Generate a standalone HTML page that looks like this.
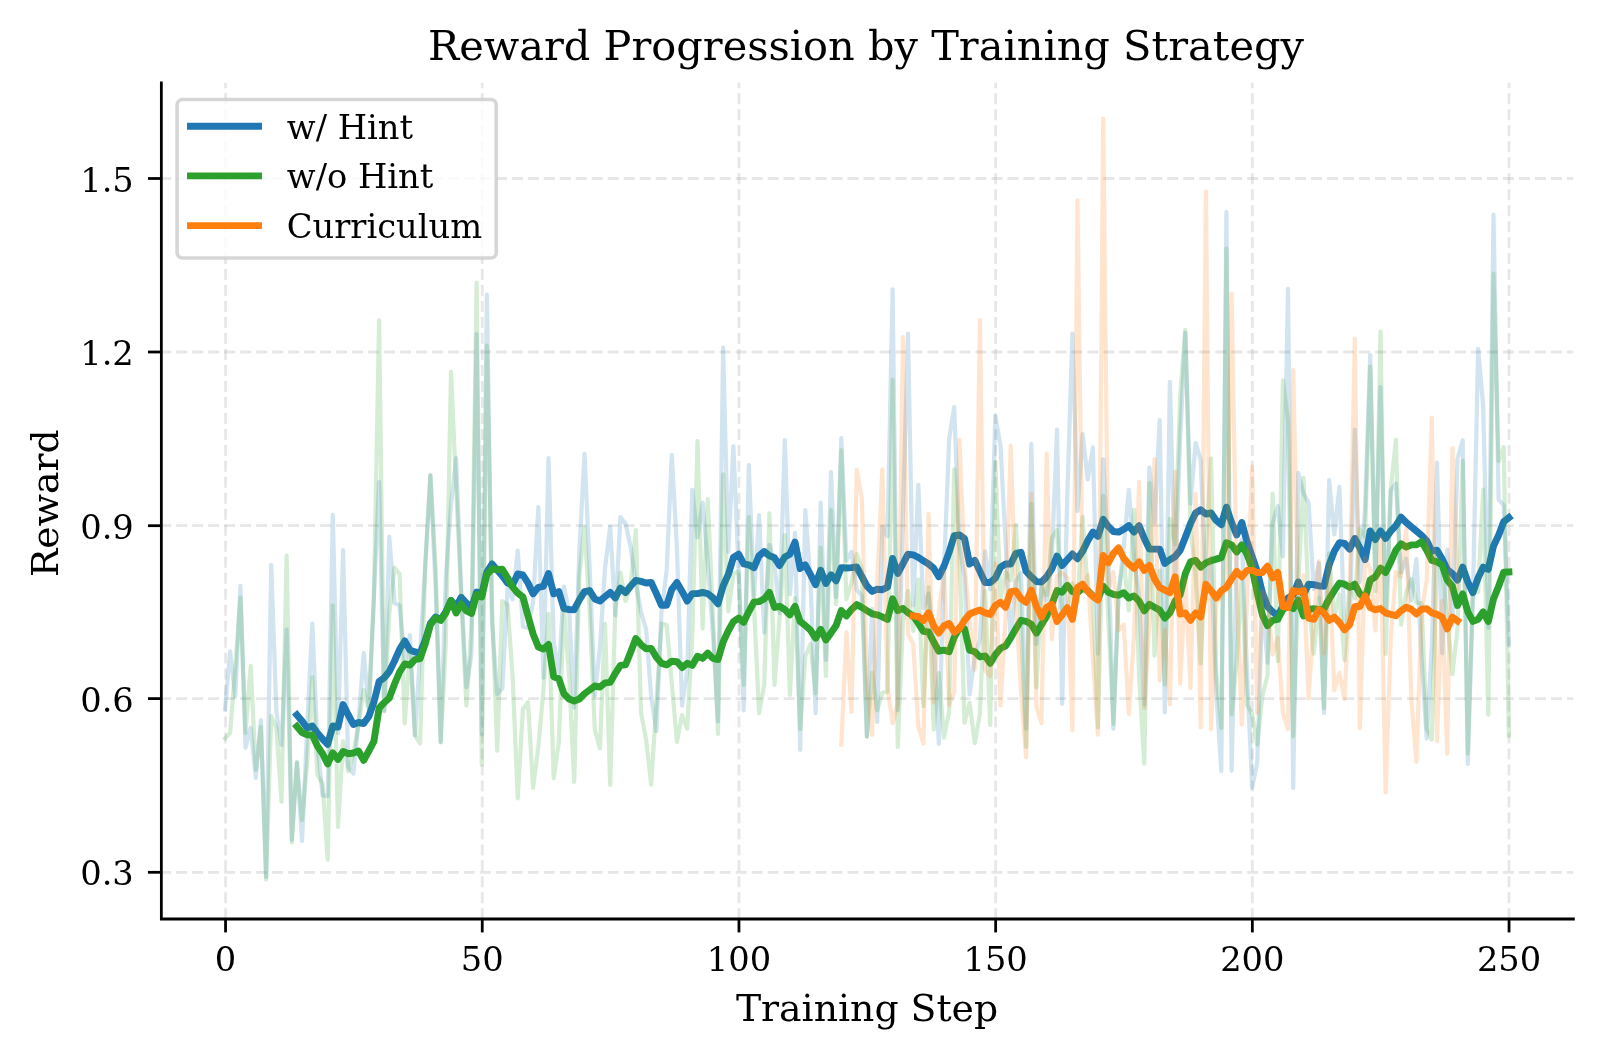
<!DOCTYPE html><html><head><meta charset="utf-8"><title>Reward Progression by Training Strategy</title><style>html,body{margin:0;padding:0;background:#fff}body{width:1600px;height:1058px;overflow:hidden}</style></head><body><svg width="1600" height="1058" viewBox="0 0 1600 1058" style="display:block;will-change:transform;font-family:'DejaVu Serif','Liberation Serif',serif">
<rect width="1600" height="1058" fill="#fff"/>
<g stroke="#b0b0b0" stroke-opacity="0.3" stroke-width="2.8" stroke-dasharray="11 4.985" fill="none"><path d="M225.55,919.3 V82.7" stroke-dasharray="11 4.98"/><path d="M482.25,919.3 V82.7" stroke-dasharray="11 4.98"/><path d="M738.95,919.3 V82.7" stroke-dasharray="11 4.98"/><path d="M995.65,919.3 V82.7" stroke-dasharray="11 4.98"/><path d="M1252.35,919.3 V82.7" stroke-dasharray="11 4.98"/><path d="M1509.05,919.3 V82.7" stroke-dasharray="11 4.98"/><path d="M161.3,872.3 H1573.2" stroke-dashoffset="1.1"/><path d="M161.3,698.6 H1573.2" stroke-dashoffset="1.1"/><path d="M161.3,525.7 H1573.2" stroke-dashoffset="1.1"/><path d="M161.3,352.0 H1573.2" stroke-dashoffset="1.1"/><path d="M161.3,178.5 H1573.2" stroke-dashoffset="1.1"/></g>
<clipPath id="c"><rect x="161.35" y="82" width="1413.0500000000002" height="837.0"/></clipPath>
<g clip-path="url(#c)" fill="none" stroke-linejoin="round">
<path d="M225.0,709.4 L230.1,651.6 L235.3,696.7 L240.4,585.9 L245.5,747.8 L250.7,727.7 L255.8,778.0 L260.9,720.0 L266.1,877.0 L271.2,564.8 L276.4,712.2 L281.5,744.9 L286.6,629.5 L291.8,839.8 L296.9,761.8 L302.0,841.0 L307.2,726.6 L312.3,623.6 L317.4,743.5 L322.6,795.5 L327.7,796.2 L332.8,514.8 L338.0,733.2 L343.1,550.2 L348.3,767.1 L353.4,773.5 L358.5,721.6 L363.7,652.9 L368.8,708.4 L373.9,596.1 L379.1,482.2 L384.2,710.7 L389.3,536.7 L394.5,603.0 L399.6,605.4 L404.7,662.7 L409.9,635.2 L415.0,735.2 L420.1,652.5 L425.3,564.7 L430.4,475.7 L435.6,587.5 L440.7,741.9 L445.8,577.6 L451.0,504.5 L456.1,458.2 L461.2,590.0 L466.4,687.1 L471.5,653.5 L476.6,334.1 L481.8,734.3 L486.9,294.5 L492.0,623.4 L497.2,694.1 L502.3,688.6 L507.5,588.8 L512.6,599.4 L517.7,550.7 L522.9,626.7 L528.0,627.9 L533.1,601.9 L538.3,507.2 L543.4,677.7 L548.5,458.0 L553.7,642.2 L558.8,673.0 L563.9,586.7 L569.1,611.6 L574.2,707.7 L579.3,551.4 L584.5,453.8 L589.6,566.6 L594.8,695.7 L599.9,647.7 L605.0,568.6 L610.2,526.8 L615.3,615.4 L620.4,517.2 L625.6,523.9 L630.7,547.3 L635.8,583.1 L641.0,611.9 L646.1,629.4 L651.2,696.6 L656.4,731.1 L661.5,611.6 L666.7,569.8 L671.8,454.8 L676.9,547.5 L682.1,705.8 L687.2,671.7 L692.3,489.9 L697.5,537.5 L702.6,502.7 L707.7,563.4 L712.9,633.0 L718.0,721.3 L723.1,347.7 L728.3,552.0 L733.4,446.4 L738.6,570.8 L743.7,710.3 L748.8,465.2 L754.0,596.1 L759.1,515.0 L764.2,632.7 L769.4,544.9 L774.5,564.0 L779.6,613.1 L784.8,440.1 L789.9,594.3 L795.0,532.9 L800.2,750.0 L805.3,510.0 L810.4,580.4 L815.6,713.1 L820.7,502.7 L825.9,659.9 L831.0,472.0 L836.1,597.1 L841.3,438.0 L846.4,560.5 L851.5,551.9 L856.7,589.6 L861.8,595.6 L866.9,736.5 L872.1,609.0 L877.2,721.9 L882.3,526.8 L887.5,536.2 L892.6,289.3 L897.8,710.3 L902.9,516.8 L908.0,333.6 L913.2,605.5 L918.3,484.9 L923.4,608.2 L928.6,593.8 L933.7,639.7 L938.8,743.8 L944.0,570.3 L949.1,439.6 L954.2,407.1 L959.4,545.2 L964.5,576.8 L969.6,694.5 L974.8,656.4 L979.9,639.7 L985.1,551.4 L990.2,589.5 L995.3,416.0 L1000.5,445.9 L1005.6,542.6 L1010.7,640.4 L1015.9,581.1 L1021.0,573.1 L1026.1,728.8 L1031.3,443.8 L1036.4,643.9 L1041.5,587.1 L1046.7,600.5 L1051.8,558.6 L1057.0,429.6 L1062.1,704.0 L1067.2,499.6 L1072.4,333.7 L1077.5,510.9 L1082.6,434.0 L1087.8,479.4 L1092.9,447.3 L1098.0,653.6 L1103.2,459.3 L1108.3,554.6 L1113.4,728.6 L1118.6,592.8 L1123.7,548.1 L1128.8,489.8 L1134.0,556.9 L1139.1,597.1 L1144.3,704.6 L1149.4,467.5 L1154.5,522.6 L1159.7,420.2 L1164.8,712.4 L1169.9,381.8 L1175.1,581.6 L1180.2,437.8 L1185.3,332.9 L1190.5,503.6 L1195.6,443.2 L1200.7,460.2 L1205.9,586.9 L1211.0,557.9 L1216.2,692.1 L1221.3,771.2 L1226.4,212.2 L1231.6,770.8 L1236.7,555.2 L1241.8,539.7 L1247.0,670.6 L1252.1,787.6 L1257.2,763.1 L1262.4,600.7 L1267.5,662.7 L1272.6,523.1 L1277.8,506.0 L1282.9,556.5 L1288.0,288.9 L1293.2,787.9 L1298.3,472.9 L1303.5,493.5 L1308.6,502.9 L1313.7,589.2 L1318.9,563.0 L1324.0,713.2 L1329.1,480.2 L1334.3,534.5 L1339.4,486.8 L1344.5,627.5 L1349.7,625.9 L1354.8,429.6 L1359.9,581.9 L1365.1,507.2 L1370.2,355.0 L1375.4,578.9 L1380.5,387.1 L1385.6,615.0 L1390.8,490.4 L1395.9,483.6 L1401.0,572.5 L1406.2,558.4 L1411.3,600.3 L1416.4,559.0 L1421.6,659.1 L1426.7,738.3 L1431.8,646.7 L1437.0,462.7 L1442.1,653.3 L1447.2,549.6 L1452.4,624.9 L1457.5,459.0 L1462.7,440.2 L1467.8,763.9 L1472.9,597.2 L1478.1,348.9 L1483.2,406.2 L1488.3,627.8 L1493.5,214.7 L1498.6,499.8 L1503.7,504.9 L1508.9,644.1" stroke="#1f77b4" stroke-opacity="0.2" stroke-width="4.2" stroke-linecap="square"/>
<path d="M296.9,715.0 L302.0,721.0 L307.2,728.0 L312.3,726.0 L317.4,733.0 L322.6,739.0 L327.7,744.3 L332.8,726.0 L338.0,727.0 L343.1,704.6 L348.3,715.0 L353.4,724.4 L358.5,722.5 L363.7,723.5 L368.8,716.5 L373.9,702.0 L379.1,681.5 L384.2,677.7 L389.3,671.5 L394.5,661.0 L399.6,649.3 L404.7,641.0 L409.9,650.0 L415.0,652.0 L420.1,653.0 L425.3,640.0 L430.4,623.5 L435.6,617.0 L440.7,619.5 L445.8,612.0 L451.0,600.5 L456.1,607.0 L461.2,597.4 L466.4,603.0 L471.5,608.0 L476.6,592.0 L481.8,594.0 L486.9,572.0 L492.0,564.0 L497.2,570.0 L502.3,576.0 L507.5,583.0 L512.6,585.0 L517.7,574.0 L522.9,575.0 L528.0,583.0 L533.1,593.8 L538.3,587.4 L543.4,586.3 L548.5,573.5 L553.7,593.8 L558.8,591.6 L563.9,608.6 L569.1,609.5 L574.2,609.7 L579.3,600.0 L584.5,591.6 L589.6,590.6 L594.8,599.0 L599.9,601.0 L605.0,596.7 L610.2,592.5 L615.3,597.8 L620.4,588.2 L625.6,592.5 L630.7,586.0 L635.8,580.4 L641.0,581.4 L646.1,583.0 L651.2,582.5 L656.4,593.6 L661.5,605.3 L666.7,605.3 L671.8,589.3 L676.9,582.5 L682.1,591.4 L687.2,601.0 L692.3,593.6 L697.5,593.6 L702.6,592.5 L707.7,593.6 L712.9,597.8 L718.0,603.8 L723.1,586.0 L728.3,574.4 L733.4,557.4 L738.6,554.2 L743.7,563.8 L748.8,564.9 L754.0,567.6 L759.1,555.7 L764.2,551.5 L769.4,555.7 L774.5,557.8 L779.6,565.5 L784.8,557.0 L789.9,554.2 L795.0,542.1 L800.2,568.5 L805.3,564.9 L810.4,574.4 L815.6,584.6 L820.7,570.2 L825.9,583.4 L831.0,574.8 L836.1,580.8 L841.3,567.6 L846.4,568.0 L851.5,567.6 L856.7,567.0 L861.8,576.5 L866.9,586.0 L872.1,591.4 L877.2,589.3 L882.3,589.7 L887.5,587.2 L892.6,558.5 L897.8,573.4 L902.9,563.8 L908.0,554.2 L913.2,554.9 L918.3,557.4 L923.4,560.8 L928.6,564.0 L933.7,568.2 L938.8,576.7 L944.0,566.1 L949.1,552.3 L954.2,535.7 L959.4,534.9 L964.5,538.5 L969.6,564.0 L974.8,560.4 L979.9,571.4 L985.1,582.5 L990.2,582.5 L995.3,578.2 L1000.5,567.2 L1005.6,564.0 L1010.7,564.0 L1015.9,553.4 L1021.0,552.3 L1026.1,571.4 L1031.3,576.7 L1036.4,581.6 L1041.5,582.0 L1046.7,576.7 L1051.8,568.9 L1057.0,556.1 L1062.1,565.5 L1067.2,559.7 L1072.4,554.0 L1077.5,558.7 L1082.6,551.2 L1087.8,540.6 L1092.9,532.1 L1098.0,536.3 L1103.2,519.3 L1108.3,526.4 L1113.4,531.5 L1118.6,532.1 L1123.7,529.3 L1128.8,525.7 L1134.0,532.1 L1139.1,525.7 L1144.3,538.5 L1149.4,549.1 L1154.5,549.1 L1159.7,549.1 L1164.8,563.4 L1169.9,559.7 L1175.1,556.5 L1180.2,550.2 L1185.3,537.4 L1190.5,523.6 L1195.6,513.0 L1200.7,509.8 L1205.9,514.0 L1211.0,513.0 L1216.2,520.4 L1221.3,524.7 L1226.4,507.2 L1231.6,522.5 L1236.7,534.9 L1241.8,522.5 L1247.0,541.7 L1252.1,556.5 L1257.2,571.4 L1262.4,592.7 L1267.5,606.5 L1272.6,611.8 L1277.8,616.0 L1282.9,606.0 L1288.0,598.0 L1293.2,595.0 L1298.3,582.0 L1303.5,594.8 L1308.6,584.2 L1313.7,584.6 L1318.9,585.9 L1324.0,586.3 L1329.1,565.0 L1334.3,551.2 L1339.4,542.7 L1344.5,543.4 L1349.7,549.1 L1354.8,538.5 L1359.9,548.0 L1365.1,559.7 L1370.2,531.0 L1375.4,539.5 L1380.5,531.0 L1385.6,538.5 L1390.8,531.0 L1395.9,525.7 L1401.0,517.2 L1406.2,522.5 L1411.3,526.8 L1416.4,531.0 L1421.6,535.3 L1426.7,540.6 L1431.8,551.2 L1437.0,550.2 L1442.1,558.7 L1447.2,569.3 L1452.4,573.6 L1457.5,580.0 L1462.7,567.2 L1467.8,582.0 L1472.9,592.7 L1478.1,577.8 L1483.2,567.2 L1488.3,569.3 L1493.5,546.0 L1498.6,535.3 L1503.7,521.8 L1508.9,517.7" stroke="#1f77b4" stroke-width="6.94" stroke-linecap="square"/>
<path d="M225.0,738.4 L230.1,733.1 L235.3,667.0 L240.4,597.6 L245.5,732.8 L250.7,665.9 L255.8,769.9 L260.9,726.8 L266.1,879.7 L271.2,716.1 L276.4,727.8 L281.5,801.6 L286.6,555.7 L291.8,842.4 L296.9,763.0 L302.0,820.2 L307.2,762.2 L312.3,677.1 L317.4,774.7 L322.6,783.8 L327.7,859.6 L332.8,605.4 L338.0,826.9 L343.1,741.4 L348.3,771.3 L353.4,753.6 L358.5,724.9 L363.7,689.8 L368.8,708.9 L373.9,598.8 L379.1,320.3 L384.2,711.5 L389.3,613.6 L394.5,567.7 L399.6,574.1 L404.7,723.4 L409.9,650.0 L415.0,735.3 L420.1,743.4 L425.3,563.8 L430.4,474.9 L435.6,567.6 L440.7,742.3 L445.8,644.1 L451.0,371.8 L456.1,486.3 L461.2,596.3 L466.4,705.6 L471.5,626.3 L476.6,282.5 L481.8,764.7 L486.9,345.5 L492.0,605.5 L497.2,750.6 L502.3,601.2 L507.5,604.7 L512.6,675.7 L517.7,798.3 L522.9,709.5 L528.0,702.3 L533.1,787.8 L538.3,746.9 L543.4,690.6 L548.5,613.9 L553.7,778.3 L558.8,742.4 L563.9,608.2 L569.1,674.8 L574.2,782.0 L579.3,575.6 L584.5,527.9 L589.6,609.8 L594.8,729.9 L599.9,748.4 L605.0,623.8 L610.2,784.9 L615.3,609.9 L620.4,572.7 L625.6,601.0 L630.7,584.7 L635.8,530.0 L641.0,712.7 L646.1,739.6 L651.2,784.7 L656.4,701.1 L661.5,623.4 L666.7,625.1 L671.8,683.4 L676.9,741.9 L682.1,714.9 L687.2,728.7 L692.3,634.8 L697.5,441.2 L702.6,628.3 L707.7,499.0 L712.9,614.2 L718.0,733.9 L723.1,474.3 L728.3,611.5 L733.4,573.8 L738.6,571.4 L743.7,685.0 L748.8,517.1 L754.0,606.8 L759.1,713.1 L764.2,685.3 L769.4,513.4 L774.5,684.8 L779.6,617.8 L784.8,535.0 L789.9,694.9 L795.0,598.0 L800.2,729.2 L805.3,656.2 L810.4,644.3 L815.6,693.3 L820.7,547.5 L825.9,676.0 L831.0,510.0 L836.1,604.2 L841.3,450.2 L846.4,599.3 L851.5,582.9 L856.7,554.1 L861.8,568.8 L866.9,736.8 L872.1,672.7 L877.2,710.3 L882.3,692.8 L887.5,691.6 L892.6,379.7 L897.8,747.1 L902.9,622.2 L908.0,591.0 L913.2,630.8 L918.3,579.7 L923.4,706.1 L928.6,587.2 L933.7,729.3 L938.8,673.0 L944.0,737.6 L949.1,711.5 L954.2,469.3 L959.4,554.5 L964.5,722.7 L969.6,702.8 L974.8,743.1 L979.9,713.6 L985.1,591.0 L990.2,725.2 L995.3,461.9 L1000.5,598.0 L1005.6,572.5 L1010.7,580.5 L1015.9,525.1 L1021.0,625.6 L1026.1,746.8 L1031.3,503.9 L1036.4,687.5 L1041.5,585.0 L1046.7,595.0 L1051.8,538.2 L1057.0,530.0 L1062.1,608.5 L1067.2,610.9 L1072.4,583.1 L1077.5,602.4 L1082.6,517.2 L1087.8,589.6 L1092.9,593.7 L1098.0,727.4 L1103.2,495.6 L1108.3,618.9 L1113.4,723.8 L1118.6,592.0 L1123.7,559.9 L1128.8,610.3 L1134.0,509.5 L1139.1,677.5 L1144.3,763.6 L1149.4,482.8 L1154.5,655.6 L1159.7,570.5 L1164.8,684.7 L1169.9,518.8 L1175.1,544.0 L1180.2,396.8 L1185.3,329.8 L1190.5,528.1 L1195.6,574.6 L1200.7,663.3 L1205.9,551.7 L1211.0,458.6 L1216.2,672.8 L1221.3,727.8 L1226.4,248.5 L1231.6,714.2 L1236.7,661.4 L1241.8,574.3 L1247.0,704.7 L1252.1,713.7 L1257.2,744.6 L1262.4,695.6 L1267.5,675.8 L1272.6,493.7 L1277.8,661.1 L1282.9,380.3 L1288.0,420.2 L1293.2,736.5 L1298.3,583.1 L1303.5,477.9 L1308.6,602.3 L1313.7,653.7 L1318.9,597.7 L1324.0,707.9 L1329.1,553.4 L1334.3,616.7 L1339.4,594.4 L1344.5,660.2 L1349.7,582.4 L1354.8,598.3 L1359.9,528.9 L1365.1,536.7 L1370.2,366.6 L1375.4,591.2 L1380.5,331.5 L1385.6,653.9 L1390.8,488.0 L1395.9,439.7 L1401.0,624.7 L1406.2,592.8 L1411.3,579.0 L1416.4,602.6 L1421.6,603.3 L1426.7,728.6 L1431.8,739.5 L1437.0,552.2 L1442.1,569.3 L1447.2,617.2 L1452.4,674.1 L1457.5,629.3 L1462.7,460.5 L1467.8,753.4 L1472.9,588.9 L1478.1,592.2 L1483.2,489.7 L1488.3,714.8 L1493.5,273.7 L1498.6,461.2 L1503.7,447.1 L1508.9,735.5" stroke="#2ca02c" stroke-opacity="0.2" stroke-width="4.2" stroke-linecap="square"/>
<path d="M296.9,726.5 L302.0,732.6 L307.2,734.8 L312.3,735.0 L317.4,746.0 L322.6,753.7 L327.7,764.0 L332.8,752.8 L338.0,759.4 L343.1,751.5 L348.3,753.7 L353.4,753.0 L358.5,751.0 L363.7,760.3 L368.8,751.0 L373.9,741.4 L379.1,708.0 L384.2,702.7 L389.3,698.0 L394.5,684.0 L399.6,672.0 L404.7,664.0 L409.9,665.0 L415.0,659.7 L420.1,658.6 L425.3,643.7 L430.4,624.6 L435.6,618.0 L440.7,620.5 L445.8,613.0 L451.0,600.5 L456.1,613.0 L461.2,604.0 L466.4,611.0 L471.5,613.5 L476.6,594.5 L481.8,597.0 L486.9,574.6 L492.0,569.0 L497.2,569.5 L502.3,569.3 L507.5,577.8 L512.6,587.0 L517.7,593.0 L522.9,597.0 L528.0,616.0 L533.1,634.0 L538.3,647.0 L543.4,649.0 L548.5,644.5 L553.7,676.7 L558.8,678.8 L563.9,693.7 L569.1,699.0 L574.2,701.0 L579.3,699.0 L584.5,693.7 L589.6,690.0 L594.8,686.0 L599.9,687.1 L605.0,682.9 L610.2,682.4 L615.3,673.3 L620.4,665.4 L625.6,664.8 L630.7,652.0 L635.8,638.6 L641.0,644.6 L646.1,648.8 L651.2,648.4 L656.4,657.3 L661.5,663.3 L666.7,664.8 L671.8,661.2 L676.9,661.6 L682.1,667.6 L687.2,663.3 L692.3,665.4 L697.5,656.3 L702.6,658.4 L707.7,653.1 L712.9,658.4 L718.0,659.5 L723.1,642.0 L728.3,630.8 L733.4,621.6 L738.6,618.0 L743.7,622.3 L748.8,611.6 L754.0,602.0 L759.1,601.6 L764.2,598.9 L769.4,592.5 L774.5,607.4 L779.6,606.3 L784.8,609.5 L789.9,614.8 L795.0,606.3 L800.2,621.6 L805.3,625.5 L810.4,630.1 L815.6,638.2 L820.7,629.3 L825.9,639.9 L831.0,632.9 L836.1,625.5 L841.3,610.6 L846.4,615.9 L851.5,609.5 L856.7,604.6 L861.8,607.4 L866.9,610.6 L872.1,613.8 L877.2,614.8 L882.3,616.9 L887.5,619.5 L892.6,598.9 L897.8,610.6 L902.9,608.4 L908.0,612.7 L913.2,615.9 L918.3,623.3 L923.4,631.4 L928.6,632.0 L933.7,642.0 L938.8,651.2 L944.0,650.1 L949.1,651.8 L954.2,637.3 L959.4,627.8 L964.5,628.8 L969.6,650.1 L974.8,651.8 L979.9,656.9 L985.1,656.0 L990.2,663.3 L995.3,654.8 L1000.5,648.4 L1005.6,645.9 L1010.7,637.8 L1015.9,628.8 L1021.0,620.3 L1026.1,621.4 L1031.3,624.2 L1036.4,633.1 L1041.5,624.6 L1046.7,616.1 L1051.8,604.4 L1057.0,590.6 L1062.1,592.3 L1067.2,585.3 L1072.4,591.6 L1077.5,592.7 L1082.6,588.4 L1087.8,590.6 L1092.9,595.9 L1098.0,599.0 L1103.2,586.3 L1108.3,592.3 L1113.4,594.4 L1118.6,595.2 L1123.7,592.7 L1128.8,598.0 L1134.0,595.9 L1139.1,601.2 L1144.3,610.8 L1149.4,604.4 L1154.5,607.2 L1159.7,610.1 L1164.8,618.2 L1169.9,612.9 L1175.1,601.2 L1180.2,594.8 L1185.3,573.6 L1190.5,561.9 L1195.6,560.4 L1200.7,567.2 L1205.9,562.9 L1211.0,560.8 L1216.2,559.1 L1221.3,557.6 L1226.4,542.7 L1231.6,544.9 L1236.7,551.9 L1241.8,544.9 L1247.0,554.4 L1252.1,568.2 L1257.2,592.7 L1262.4,615.0 L1267.5,625.7 L1272.6,620.3 L1277.8,619.3 L1282.9,609.7 L1288.0,605.5 L1293.2,608.6 L1298.3,600.1 L1303.5,616.0 L1308.6,609.7 L1313.7,608.6 L1318.9,609.7 L1324.0,608.6 L1329.1,599.0 L1334.3,590.6 L1339.4,583.1 L1344.5,584.2 L1349.7,587.4 L1354.8,584.2 L1359.9,593.8 L1365.1,599.0 L1370.2,580.0 L1375.4,576.7 L1380.5,568.2 L1385.6,572.5 L1390.8,561.9 L1395.9,550.2 L1401.0,543.8 L1406.2,547.0 L1411.3,544.9 L1416.4,544.9 L1421.6,541.7 L1426.7,550.2 L1431.8,560.4 L1437.0,561.9 L1442.1,565.0 L1447.2,580.0 L1452.4,586.3 L1457.5,605.5 L1462.7,593.8 L1467.8,611.8 L1472.9,621.4 L1478.1,619.3 L1483.2,611.8 L1488.3,621.4 L1493.5,599.0 L1498.6,586.3 L1503.7,572.2 L1508.9,571.9" stroke="#2ca02c" stroke-width="6.94" stroke-linecap="square"/>
<path d="M841.3,744.5 L846.4,632.4 L851.5,711.7 L856.7,469.9 L861.8,498.1 L866.9,680.9 L872.1,735.0 L877.2,584.4 L882.3,469.4 L887.5,687.1 L892.6,723.1 L897.8,703.5 L902.9,337.2 L908.0,633.8 L913.2,644.3 L918.3,725.9 L923.4,743.5 L928.6,513.8 L933.7,702.5 L938.8,611.0 L944.0,571.4 L949.1,704.9 L954.2,692.2 L959.4,439.9 L964.5,564.3 L969.6,620.1 L974.8,669.8 L979.9,320.0 L985.1,670.3 L990.2,676.4 L995.3,563.6 L1000.5,705.5 L1005.6,615.7 L1010.7,445.6 L1015.9,604.5 L1021.0,691.1 L1026.1,757.4 L1031.3,493.5 L1036.4,706.7 L1041.5,723.2 L1046.7,453.5 L1051.8,639.4 L1057.0,576.2 L1062.1,572.4 L1067.2,577.7 L1072.4,730.3 L1077.5,200.3 L1082.6,585.6 L1087.8,575.2 L1092.9,659.1 L1098.0,734.7 L1103.2,118.5 L1108.3,588.8 L1113.4,572.2 L1118.6,630.3 L1123.7,624.6 L1128.8,714.0 L1134.0,635.5 L1139.1,481.8 L1144.3,707.9 L1149.4,621.3 L1154.5,459.0 L1159.7,680.3 L1164.8,629.5 L1169.9,704.2 L1175.1,471.8 L1180.2,683.6 L1185.3,580.1 L1190.5,688.2 L1195.6,494.0 L1200.7,727.4 L1205.9,191.3 L1211.0,729.1 L1216.2,603.9 L1221.3,596.6 L1226.4,589.4 L1231.6,293.5 L1236.7,583.6 L1241.8,724.6 L1247.0,601.1 L1252.1,466.6 L1257.2,713.0 L1262.4,591.3 L1267.5,600.5 L1272.6,654.4 L1277.8,638.0 L1282.9,713.1 L1288.0,729.1 L1293.2,370.0 L1298.3,606.9 L1303.5,575.0 L1308.6,698.4 L1313.7,621.0 L1318.9,561.4 L1324.0,653.7 L1329.1,563.0 L1334.3,690.3 L1339.4,672.8 L1344.5,698.9 L1349.7,590.9 L1354.8,338.6 L1359.9,728.1 L1365.1,557.4 L1370.2,569.0 L1375.4,630.3 L1380.5,538.1 L1385.6,792.5 L1390.8,637.2 L1395.9,572.0 L1401.0,576.6 L1406.2,528.8 L1411.3,699.0 L1416.4,761.9 L1421.6,611.3 L1426.7,579.8 L1431.8,417.7 L1437.0,741.3 L1442.1,600.8 L1447.2,753.8 L1452.4,448.0 L1457.5,589.0" stroke="#ff7f0e" stroke-opacity="0.2" stroke-width="4.2" stroke-linecap="square"/>
<path d="M913.2,615.9 L918.3,616.5 L923.4,620.5 L928.6,612.8 L933.7,626.0 L938.8,633.0 L944.0,625.7 L949.1,623.5 L954.2,632.0 L959.4,628.8 L964.5,620.3 L969.6,614.0 L974.8,611.8 L979.9,610.1 L985.1,612.9 L990.2,614.4 L995.3,605.5 L1000.5,602.3 L1005.6,607.2 L1010.7,591.6 L1015.9,591.0 L1021.0,598.6 L1026.1,602.3 L1031.3,590.1 L1036.4,606.5 L1041.5,617.1 L1046.7,607.2 L1051.8,604.4 L1057.0,621.4 L1062.1,615.0 L1067.2,607.6 L1072.4,619.3 L1077.5,587.4 L1082.6,584.2 L1087.8,591.6 L1092.9,596.5 L1098.0,600.1 L1103.2,555.5 L1108.3,562.9 L1113.4,553.4 L1118.6,548.0 L1123.7,558.2 L1128.8,564.0 L1134.0,568.2 L1139.1,561.9 L1144.3,570.4 L1149.4,565.5 L1154.5,578.9 L1159.7,587.4 L1164.8,590.1 L1169.9,592.7 L1175.1,576.7 L1180.2,614.0 L1185.3,612.9 L1190.5,620.3 L1195.6,612.9 L1200.7,617.1 L1205.9,584.2 L1211.0,590.6 L1216.2,598.0 L1221.3,590.6 L1226.4,587.4 L1231.6,578.9 L1236.7,571.4 L1241.8,576.7 L1247.0,570.4 L1252.1,570.4 L1257.2,572.5 L1262.4,572.5 L1267.5,566.1 L1272.6,577.8 L1277.8,572.5 L1282.9,606.5 L1288.0,607.6 L1293.2,590.6 L1298.3,591.6 L1303.5,590.6 L1308.6,618.2 L1313.7,619.3 L1318.9,609.7 L1324.0,612.9 L1329.1,620.3 L1334.3,617.1 L1339.4,622.5 L1344.5,629.9 L1349.7,624.6 L1354.8,606.5 L1359.9,606.5 L1365.1,595.9 L1370.2,607.6 L1375.4,609.7 L1380.5,608.6 L1385.6,612.9 L1390.8,614.4 L1395.9,615.7 L1401.0,610.8 L1406.2,607.2 L1411.3,609.3 L1416.4,614.0 L1421.6,609.3 L1426.7,608.6 L1431.8,612.9 L1437.0,614.4 L1442.1,617.1 L1447.2,628.8 L1452.4,617.1 L1457.5,620.8" stroke="#ff7f0e" stroke-width="6.94" stroke-linecap="square"/>
</g>
<path d="M161.35,83.0 V919.0 H1573.4" fill="none" stroke="#000" stroke-width="2.78" stroke-linecap="square"/>
<g stroke="#000" stroke-width="2.78"><path d="M225.55,919.0 v13.4"/><path d="M482.25,919.0 v13.4"/><path d="M738.95,919.0 v13.4"/><path d="M995.65,919.0 v13.4"/><path d="M1252.35,919.0 v13.4"/><path d="M1509.05,919.0 v13.4"/><path d="M161.35,872.3 h-13.4"/><path d="M161.35,698.6 h-13.4"/><path d="M161.35,525.7 h-13.4"/><path d="M161.35,352.0 h-13.4"/><path d="M161.35,178.5 h-13.4"/></g>
<g font-size="33.7" fill="#000"><text x="225.55" y="970.9" text-anchor="middle">0</text><text x="482.25" y="970.9" text-anchor="middle">50</text><text x="738.95" y="970.9" text-anchor="middle">100</text><text x="995.65" y="970.9" text-anchor="middle">150</text><text x="1252.35" y="970.9" text-anchor="middle">200</text><text x="1509.05" y="970.9" text-anchor="middle">250</text><text x="133.8" y="885.3" text-anchor="end">0.3</text><text x="133.8" y="711.6" text-anchor="end">0.6</text><text x="133.8" y="538.7" text-anchor="end">0.9</text><text x="133.8" y="365.0" text-anchor="end">1.2</text><text x="133.8" y="191.5" text-anchor="end">1.5</text></g>
<text x="867.0" y="1021.4" font-size="37.76" text-anchor="middle">Training Step</text>
<text transform="translate(58.4,503.2) rotate(-90)" font-size="37.76" text-anchor="middle">Reward</text>
<text x="866.0" y="59.9" font-size="41.49" text-anchor="middle">Reward Progression by Training Strategy</text>
<rect x="177.1" y="99.5" width="319.15" height="158.57" rx="5.5" ry="5.5" fill="#fff" fill-opacity="0.8" stroke="#ccc" stroke-opacity="0.8" stroke-width="3.6"/>
<path d="M190.5,126.3 H258.5" stroke="#1f77b4" stroke-width="6.94" stroke-linecap="square"/>
<text x="286.8" y="138.6" font-size="33.7">w/ Hint</text>
<path d="M190.5,175.9 H258.5" stroke="#2ca02c" stroke-width="6.94" stroke-linecap="square"/>
<text x="286.8" y="188.2" font-size="33.7">w/o Hint</text>
<path d="M190.5,225.6 H258.5" stroke="#ff7f0e" stroke-width="6.94" stroke-linecap="square"/>
<text x="286.8" y="237.9" font-size="33.7">Curriculum</text>
</svg></body></html>
